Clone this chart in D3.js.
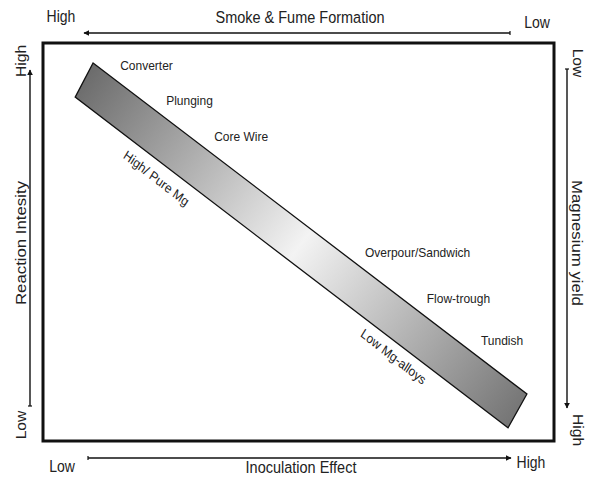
<!DOCTYPE html>
<html>
<head>
<meta charset="utf-8">
<script src="https://cdn.jsdelivr.net/npm/d3@7"></script>
<style>
  body { margin: 0; background: #fff; }
  svg text { font-family: "Liberation Sans", Arial, sans-serif; fill: #222; }
</style>
</head>
<body>
<div id="chart"></div>
<script>
// treatment methods, positioned in chart units (x: inoculation 0-100, y: reaction 0-100)
const methods = ['Converter', 'Plunging', 'Core Wire', 'Overpour/Sandwich', 'Flow-trough', 'Tundish'];
const methodX = [15.1, 24.1, 33.5, 63.0, 75.1, 85.7];
const methodY = [93.2, 84.4, 75.4, 46.2, 34.7, 24.1];

// alloy labels under the band
const alloys = ['High/ Pure Mg', 'Low Mg-alloys'];
const alloyX = [22.2, 68.6];
const alloyY = [66.0, 21.2];

// band corners (chart units)
const bandX = [9.8, 94.7, 91.0, 6.3];
const bandY = [95.0, 11.8, 3.3, 86.4];

// axis titles and end labels
const axisTitles = ['Smoke & Fume Formation', 'Inoculation Effect', 'Reaction Intesity', 'Magnesium yield'];
const endLabels = { top: ['High', 'Low'], bottom: ['Low', 'High'], left: ['High', 'Low'], right: ['Low', 'High'] };

const width = 592;
const height = 477;
const frame = { left: 43, right: 554, top: 43, bottom: 441 };
const stretch = 1.12; // text in the original is drawn a bit taller than wide

const x = d3.scaleLinear().domain([0, 100]).range([frame.left, frame.right]);
const y = d3.scaleLinear().domain([0, 100]).range([frame.bottom, frame.top]);

const svg = d3.select('#chart')
  .append('svg')
    .attr('width', width)
    .attr('height', height);

const defs = svg.append('defs');
defs.append('marker')
    .attr('id', 'head')
    .attr('viewBox', '0 0 10 10')
    .attr('refX', 9)
    .attr('refY', 5)
    .attr('markerWidth', 6)
    .attr('markerHeight', 6)
    .attr('markerUnits', 'userSpaceOnUse')
    .attr('orient', 'auto')
  .append('path')
    .attr('d', 'M0,0L10,5L0,10Z')
    .attr('fill', '#111');

const grad = defs.append('linearGradient')
    .attr('id', 'band')
    .attr('gradientUnits', 'userSpaceOnUse')
    .attr('x1', x(8)).attr('y1', y(91))
    .attr('x2', x(93)).attr('y2', y(8));
[[0, '#6c6c6c'], [0.5, '#f3f3f3'], [1, '#767676']].forEach(([o, c]) => {
  grad.append('stop').attr('offset', o).attr('stop-color', c);
});

// frame
svg.append('rect')
    .attr('x', x(0))
    .attr('y', y(100))
    .attr('width', x(100) - x(0))
    .attr('height', y(0) - y(100))
    .attr('fill', 'none')
    .attr('stroke', '#111')
    .attr('stroke-width', 3);

// band
svg.append('path')
    .datum(d3.zip(bandX, bandY))
    .attr('d', d => 'M' + d.map(p => [x(p[0]), y(p[1])].join(',')).join('L') + 'Z')
    .attr('fill', 'url(#band)')
    .attr('stroke', '#111')
    .attr('stroke-width', 1.3);

// method labels
svg.append('g')
  .selectAll('text')
  .data(methods)
  .join('text')
    .attr('transform', (d, i) => `translate(${x(methodX[i])},${y(methodY[i])}) scale(1,${stretch})`)
    .attr('font-size', 12)
    .text(d => d);

// alloy labels, rotated along the band
svg.append('g')
  .selectAll('text')
  .data(alloys)
  .join('text')
    .attr('transform', (d, i) => `translate(${x(alloyX[i])},${y(alloyY[i])}) scale(1,${stretch}) rotate(35)`)
    .attr('text-anchor', 'middle')
    .attr('dy', '0.35em')
    .attr('font-size', 12)
    .text(d => d);

// arrows
function arrow(x1, y1, x2, y2) {
  svg.append('line')
      .attr('x1', x1).attr('y1', y1)
      .attr('x2', x2).attr('y2', y2)
      .attr('stroke', '#111')
      .attr('stroke-width', 1.4)
      .attr('marker-end', 'url(#head)');
  // small tick at the tail
  const horiz = y1 === y2;
  svg.append('line')
      .attr('x1', horiz ? x1 : x1 - 2).attr('y1', horiz ? y1 - 2 : y1)
      .attr('x2', horiz ? x1 : x1 + 2).attr('y2', horiz ? y1 + 2 : y1)
      .attr('stroke', '#111')
      .attr('stroke-width', 1.2);
}
arrow(510, 33, 84, 33);
arrow(88, 458, 511, 458);
arrow(30, 406, 30, 70);
arrow(567, 69, 567, 408);

function label(text, cx, cy, rot, size) {
  svg.append('text')
      .attr('transform', `translate(${cx},${cy}) scale(1,${stretch}) rotate(${rot})`)
      .attr('text-anchor', 'middle')
      .attr('dy', '0.35em')
      .attr('font-size', size)
      .text(text);
}

label(axisTitles[0], 300, 17, 0, 14.5);
label(axisTitles[1], 301, 467, 0, 14.5);
label(axisTitles[2], 21, 243, -90, 15);
label(axisTitles[3], 577, 243, 90, 15);

label(endLabels.top[0], 61, 17, 0, 14);
label(endLabels.top[1], 537, 23, 0, 14);
label(endLabels.bottom[0], 62, 467, 0, 14);
label(endLabels.bottom[1], 531, 463, 0, 14);
label(endLabels.left[0], 21, 61, -90, 14);
label(endLabels.left[1], 21, 425, -90, 14);
label(endLabels.right[0], 578, 63, 90, 14);
label(endLabels.right[1], 578, 430, 90, 14);
</script>
</body>
</html>
